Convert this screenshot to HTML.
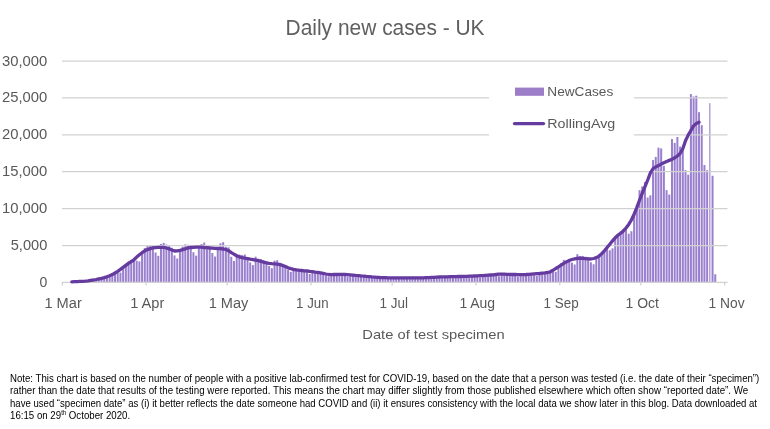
<!DOCTYPE html>
<html lang="en"><head><meta charset="utf-8"><title>Daily new cases - UK</title>
<style>html,body{margin:0;padding:0;background:#fff}body{width:770px;height:429px;overflow:hidden}svg{display:block}text{font-family:"Liberation Sans",sans-serif}</style></head><body>
<svg width="770" height="429" viewBox="0 0 770 429">
<rect width="770" height="429" fill="#fff"/>
<g fill="#9a7fce">
<rect x="70.76" y="281.73" width="2.0" height="0.27"/>
<rect x="73.47" y="281.66" width="2.0" height="0.34"/>
<rect x="76.17" y="281.54" width="2.0" height="0.46"/>
<rect x="78.87" y="281.58" width="2.0" height="0.42"/>
<rect x="81.58" y="281.53" width="2.0" height="0.47"/>
<rect x="84.28" y="281.00" width="2.0" height="1.00"/>
<rect x="86.99" y="280.67" width="2.0" height="1.33"/>
<rect x="89.69" y="280.25" width="2.0" height="1.75"/>
<rect x="92.39" y="279.80" width="2.0" height="2.20"/>
<rect x="95.10" y="279.25" width="2.0" height="2.75"/>
<rect x="97.80" y="279.38" width="2.0" height="2.62"/>
<rect x="100.50" y="279.27" width="2.0" height="2.73"/>
<rect x="103.21" y="277.38" width="2.0" height="4.62"/>
<rect x="105.91" y="276.25" width="2.0" height="5.75"/>
<rect x="108.61" y="275.13" width="2.0" height="6.87"/>
<rect x="111.32" y="273.95" width="2.0" height="8.05"/>
<rect x="114.02" y="272.37" width="2.0" height="9.63"/>
<rect x="116.73" y="272.86" width="2.0" height="9.14"/>
<rect x="119.43" y="272.54" width="2.0" height="9.46"/>
<rect x="122.13" y="266.73" width="2.0" height="15.27"/>
<rect x="124.84" y="263.72" width="2.0" height="18.28"/>
<rect x="127.54" y="261.52" width="2.0" height="20.48"/>
<rect x="130.24" y="260.01" width="2.0" height="21.99"/>
<rect x="132.95" y="258.21" width="2.0" height="23.79"/>
<rect x="135.65" y="260.67" width="2.0" height="21.33"/>
<rect x="138.36" y="261.40" width="2.0" height="20.60"/>
<rect x="141.06" y="251.50" width="2.0" height="30.50"/>
<rect x="143.76" y="247.99" width="2.0" height="34.01"/>
<rect x="146.47" y="245.50" width="2.0" height="36.50"/>
<rect x="149.17" y="245.87" width="2.0" height="36.13"/>
<rect x="151.87" y="245.46" width="2.0" height="36.54"/>
<rect x="154.58" y="252.46" width="2.0" height="29.54"/>
<rect x="157.28" y="255.81" width="2.0" height="26.19"/>
<rect x="159.99" y="244.02" width="2.0" height="37.98"/>
<rect x="162.69" y="242.92" width="2.0" height="39.08"/>
<rect x="165.39" y="244.54" width="2.0" height="37.46"/>
<rect x="168.10" y="246.06" width="2.0" height="35.94"/>
<rect x="170.80" y="247.76" width="2.0" height="34.24"/>
<rect x="173.50" y="255.42" width="2.0" height="26.58"/>
<rect x="176.21" y="258.48" width="2.0" height="23.52"/>
<rect x="178.91" y="249.03" width="2.0" height="32.97"/>
<rect x="181.61" y="246.67" width="2.0" height="35.33"/>
<rect x="184.32" y="244.39" width="2.0" height="37.61"/>
<rect x="187.02" y="244.76" width="2.0" height="37.24"/>
<rect x="189.73" y="245.02" width="2.0" height="36.98"/>
<rect x="192.43" y="252.19" width="2.0" height="29.81"/>
<rect x="195.13" y="255.60" width="2.0" height="26.40"/>
<rect x="197.84" y="245.69" width="2.0" height="36.31"/>
<rect x="200.54" y="244.08" width="2.0" height="37.92"/>
<rect x="203.24" y="242.55" width="2.0" height="39.45"/>
<rect x="205.95" y="244.97" width="2.0" height="37.03"/>
<rect x="208.65" y="245.55" width="2.0" height="36.45"/>
<rect x="211.36" y="252.97" width="2.0" height="29.03"/>
<rect x="214.06" y="256.54" width="2.0" height="25.46"/>
<rect x="216.76" y="247.18" width="2.0" height="34.82"/>
<rect x="219.47" y="243.29" width="2.0" height="38.71"/>
<rect x="222.17" y="242.18" width="2.0" height="39.82"/>
<rect x="224.87" y="246.84" width="2.0" height="35.16"/>
<rect x="227.58" y="247.34" width="2.0" height="34.66"/>
<rect x="230.28" y="256.78" width="2.0" height="25.22"/>
<rect x="232.98" y="260.94" width="2.0" height="21.06"/>
<rect x="235.69" y="254.59" width="2.0" height="27.41"/>
<rect x="238.39" y="254.57" width="2.0" height="27.43"/>
<rect x="241.10" y="255.09" width="2.0" height="26.91"/>
<rect x="243.80" y="254.50" width="2.0" height="27.50"/>
<rect x="246.50" y="257.03" width="2.0" height="24.97"/>
<rect x="249.21" y="262.44" width="2.0" height="19.56"/>
<rect x="251.91" y="265.11" width="2.0" height="16.89"/>
<rect x="254.61" y="256.72" width="2.0" height="25.28"/>
<rect x="257.32" y="258.69" width="2.0" height="23.31"/>
<rect x="260.02" y="259.24" width="2.0" height="22.76"/>
<rect x="262.73" y="260.51" width="2.0" height="21.49"/>
<rect x="265.43" y="261.48" width="2.0" height="20.52"/>
<rect x="268.13" y="266.01" width="2.0" height="15.99"/>
<rect x="270.84" y="268.15" width="2.0" height="13.85"/>
<rect x="273.54" y="260.63" width="2.0" height="21.37"/>
<rect x="276.24" y="260.19" width="2.0" height="21.81"/>
<rect x="278.95" y="262.77" width="2.0" height="19.23"/>
<rect x="281.65" y="264.02" width="2.0" height="17.98"/>
<rect x="284.36" y="265.53" width="2.0" height="16.47"/>
<rect x="287.06" y="269.81" width="2.0" height="12.19"/>
<rect x="289.76" y="271.88" width="2.0" height="10.12"/>
<rect x="292.47" y="268.73" width="2.0" height="13.27"/>
<rect x="295.17" y="268.66" width="2.0" height="13.34"/>
<rect x="297.87" y="268.96" width="2.0" height="13.04"/>
<rect x="300.58" y="269.54" width="2.0" height="12.46"/>
<rect x="303.28" y="269.95" width="2.0" height="12.05"/>
<rect x="305.98" y="272.63" width="2.0" height="9.37"/>
<rect x="308.69" y="274.02" width="2.0" height="7.98"/>
<rect x="311.39" y="271.28" width="2.0" height="10.72"/>
<rect x="314.10" y="271.13" width="2.0" height="10.87"/>
<rect x="316.80" y="271.43" width="2.0" height="10.57"/>
<rect x="319.50" y="272.07" width="2.0" height="9.93"/>
<rect x="322.21" y="272.76" width="2.0" height="9.24"/>
<rect x="324.91" y="275.20" width="2.0" height="6.80"/>
<rect x="327.61" y="276.40" width="2.0" height="5.60"/>
<rect x="330.32" y="274.28" width="2.0" height="7.72"/>
<rect x="333.02" y="273.83" width="2.0" height="8.17"/>
<rect x="335.73" y="273.67" width="2.0" height="8.33"/>
<rect x="338.43" y="273.77" width="2.0" height="8.23"/>
<rect x="341.13" y="273.86" width="2.0" height="8.14"/>
<rect x="343.84" y="275.63" width="2.0" height="6.37"/>
<rect x="346.54" y="276.54" width="2.0" height="5.46"/>
<rect x="349.24" y="274.60" width="2.0" height="7.40"/>
<rect x="351.95" y="274.46" width="2.0" height="7.54"/>
<rect x="354.65" y="274.65" width="2.0" height="7.35"/>
<rect x="357.36" y="275.10" width="2.0" height="6.90"/>
<rect x="360.06" y="275.43" width="2.0" height="6.57"/>
<rect x="362.76" y="277.01" width="2.0" height="4.99"/>
<rect x="365.47" y="277.82" width="2.0" height="4.18"/>
<rect x="368.17" y="276.39" width="2.0" height="5.61"/>
<rect x="370.87" y="276.36" width="2.0" height="5.64"/>
<rect x="373.58" y="276.55" width="2.0" height="5.45"/>
<rect x="376.28" y="276.88" width="2.0" height="5.12"/>
<rect x="378.98" y="277.12" width="2.0" height="4.88"/>
<rect x="381.69" y="278.28" width="2.0" height="3.72"/>
<rect x="384.39" y="278.85" width="2.0" height="3.15"/>
<rect x="387.10" y="277.60" width="2.0" height="4.40"/>
<rect x="389.80" y="277.39" width="2.0" height="4.61"/>
<rect x="392.50" y="277.34" width="2.0" height="4.66"/>
<rect x="395.21" y="277.43" width="2.0" height="4.57"/>
<rect x="397.91" y="277.48" width="2.0" height="4.52"/>
<rect x="400.61" y="278.44" width="2.0" height="3.56"/>
<rect x="403.32" y="278.90" width="2.0" height="3.10"/>
<rect x="406.02" y="277.62" width="2.0" height="4.38"/>
<rect x="408.73" y="277.39" width="2.0" height="4.61"/>
<rect x="411.43" y="277.34" width="2.0" height="4.66"/>
<rect x="414.13" y="277.43" width="2.0" height="4.57"/>
<rect x="416.84" y="277.48" width="2.0" height="4.52"/>
<rect x="419.54" y="278.44" width="2.0" height="3.56"/>
<rect x="422.24" y="278.88" width="2.0" height="3.12"/>
<rect x="424.95" y="277.49" width="2.0" height="4.51"/>
<rect x="427.65" y="277.13" width="2.0" height="4.87"/>
<rect x="430.36" y="276.93" width="2.0" height="5.07"/>
<rect x="433.06" y="276.87" width="2.0" height="5.13"/>
<rect x="435.76" y="276.78" width="2.0" height="5.22"/>
<rect x="438.47" y="277.78" width="2.0" height="4.22"/>
<rect x="441.17" y="278.25" width="2.0" height="3.75"/>
<rect x="443.87" y="276.64" width="2.0" height="5.36"/>
<rect x="446.58" y="276.29" width="2.0" height="5.71"/>
<rect x="449.28" y="276.17" width="2.0" height="5.83"/>
<rect x="451.98" y="276.21" width="2.0" height="5.79"/>
<rect x="454.69" y="276.20" width="2.0" height="5.80"/>
<rect x="457.39" y="277.37" width="2.0" height="4.63"/>
<rect x="460.10" y="277.90" width="2.0" height="4.10"/>
<rect x="462.80" y="276.17" width="2.0" height="5.83"/>
<rect x="465.50" y="275.78" width="2.0" height="6.22"/>
<rect x="468.21" y="275.62" width="2.0" height="6.38"/>
<rect x="470.91" y="275.64" width="2.0" height="6.36"/>
<rect x="473.61" y="275.57" width="2.0" height="6.43"/>
<rect x="476.32" y="276.80" width="2.0" height="5.20"/>
<rect x="479.02" y="277.34" width="2.0" height="4.66"/>
<rect x="481.73" y="275.31" width="2.0" height="6.69"/>
<rect x="484.43" y="274.79" width="2.0" height="7.21"/>
<rect x="487.13" y="274.52" width="2.0" height="7.48"/>
<rect x="489.84" y="274.45" width="2.0" height="7.55"/>
<rect x="492.54" y="274.31" width="2.0" height="7.69"/>
<rect x="495.24" y="275.64" width="2.0" height="6.36"/>
<rect x="497.95" y="276.20" width="2.0" height="5.80"/>
<rect x="500.65" y="273.88" width="2.0" height="8.12"/>
<rect x="503.35" y="273.51" width="2.0" height="8.49"/>
<rect x="506.06" y="273.50" width="2.0" height="8.50"/>
<rect x="508.76" y="273.75" width="2.0" height="8.25"/>
<rect x="511.47" y="273.92" width="2.0" height="8.08"/>
<rect x="514.17" y="275.64" width="2.0" height="6.36"/>
<rect x="516.87" y="276.46" width="2.0" height="5.54"/>
<rect x="519.58" y="274.29" width="2.0" height="7.71"/>
<rect x="522.28" y="273.85" width="2.0" height="8.15"/>
<rect x="524.98" y="273.66" width="2.0" height="8.34"/>
<rect x="527.69" y="273.67" width="2.0" height="8.33"/>
<rect x="530.39" y="273.55" width="2.0" height="8.45"/>
<rect x="533.10" y="275.11" width="2.0" height="6.89"/>
<rect x="535.80" y="275.78" width="2.0" height="6.22"/>
<rect x="538.50" y="273.10" width="2.0" height="8.90"/>
<rect x="541.21" y="272.39" width="2.0" height="9.61"/>
<rect x="543.91" y="271.98" width="2.0" height="10.02"/>
<rect x="546.61" y="271.73" width="2.0" height="10.27"/>
<rect x="549.32" y="271.10" width="2.0" height="10.90"/>
<rect x="552.02" y="272.01" width="2.0" height="9.99"/>
<rect x="554.73" y="271.83" width="2.0" height="10.17"/>
<rect x="557.43" y="266.18" width="2.0" height="15.82"/>
<rect x="560.13" y="263.48" width="2.0" height="18.52"/>
<rect x="562.84" y="259.89" width="2.0" height="22.11"/>
<rect x="565.54" y="260.25" width="2.0" height="21.75"/>
<rect x="568.24" y="258.93" width="2.0" height="23.07"/>
<rect x="570.95" y="262.67" width="2.0" height="19.33"/>
<rect x="573.65" y="264.52" width="2.0" height="17.48"/>
<rect x="576.35" y="254.21" width="2.0" height="27.79"/>
<rect x="579.06" y="256.02" width="2.0" height="25.98"/>
<rect x="581.76" y="255.91" width="2.0" height="26.09"/>
<rect x="584.47" y="256.79" width="2.0" height="25.21"/>
<rect x="587.17" y="257.26" width="2.0" height="24.74"/>
<rect x="589.87" y="262.26" width="2.0" height="19.74"/>
<rect x="592.58" y="264.26" width="2.0" height="17.74"/>
<rect x="595.28" y="257.21" width="2.0" height="24.79"/>
<rect x="597.98" y="255.31" width="2.0" height="26.69"/>
<rect x="600.69" y="252.81" width="2.0" height="29.19"/>
<rect x="603.39" y="249.90" width="2.0" height="32.10"/>
<rect x="606.10" y="246.77" width="2.0" height="35.23"/>
<rect x="608.80" y="250.31" width="2.0" height="31.69"/>
<rect x="611.50" y="248.36" width="2.0" height="33.64"/>
<rect x="614.21" y="236.92" width="2.0" height="45.08"/>
<rect x="616.91" y="233.87" width="2.0" height="48.13"/>
<rect x="619.61" y="231.69" width="2.0" height="50.31"/>
<rect x="622.32" y="229.33" width="2.0" height="52.67"/>
<rect x="625.02" y="226.89" width="2.0" height="55.11"/>
<rect x="627.73" y="233.72" width="2.0" height="48.28"/>
<rect x="630.43" y="231.25" width="2.0" height="50.75"/>
<rect x="633.13" y="212.88" width="2.0" height="69.12"/>
<rect x="635.84" y="205.37" width="2.0" height="76.63"/>
<rect x="638.54" y="190.15" width="2.0" height="91.85"/>
<rect x="641.24" y="186.46" width="2.0" height="95.54"/>
<rect x="643.95" y="182.03" width="2.0" height="99.97"/>
<rect x="646.65" y="197.53" width="2.0" height="84.47"/>
<rect x="649.35" y="195.32" width="2.0" height="86.68"/>
<rect x="652.06" y="160.11" width="2.0" height="121.89"/>
<rect x="654.76" y="156.94" width="2.0" height="125.06"/>
<rect x="657.47" y="147.64" width="2.0" height="134.36"/>
<rect x="660.17" y="148.45" width="2.0" height="133.55"/>
<rect x="662.87" y="165.80" width="2.0" height="116.20"/>
<rect x="665.58" y="190.15" width="2.0" height="91.85"/>
<rect x="668.28" y="194.58" width="2.0" height="87.42"/>
<rect x="670.98" y="139.01" width="2.0" height="142.99"/>
<rect x="673.69" y="142.92" width="2.0" height="139.08"/>
<rect x="676.39" y="137.01" width="2.0" height="144.99"/>
<rect x="679.10" y="146.61" width="2.0" height="135.39"/>
<rect x="681.80" y="149.56" width="2.0" height="132.44"/>
<rect x="684.50" y="170.22" width="2.0" height="111.78"/>
<rect x="687.21" y="174.65" width="2.0" height="107.35"/>
<rect x="689.91" y="94.10" width="2.0" height="187.90"/>
<rect x="692.61" y="96.50" width="2.0" height="185.50"/>
<rect x="695.32" y="95.69" width="2.0" height="186.31"/>
<rect x="698.02" y="112.18" width="2.0" height="169.82"/>
<rect x="700.73" y="125.21" width="2.0" height="156.79"/>
<rect x="703.43" y="165.06" width="2.0" height="116.94"/>
<rect x="706.13" y="170.22" width="2.0" height="111.78"/>
<rect x="709.29" y="103.14" width="1.1" height="178.86"/>
<rect x="711.54" y="175.76" width="2.0" height="106.24"/>
<rect x="714.24" y="274.28" width="2.0" height="7.72"/>
</g>
<g stroke="#d1d1d1" stroke-width="1.25" fill="none">
<line x1="62" y1="61.0" x2="727.5" y2="61.0"/>
<path d="M62 97.9H489M634 97.9H727.5"/>
<path d="M62 134.8H489M634 134.8H727.5"/>
<line x1="62" y1="171.7" x2="727.5" y2="171.7"/>
<line x1="62" y1="208.6" x2="727.5" y2="208.6"/>
<line x1="62" y1="245.5" x2="727.5" y2="245.5"/>
<line x1="62" y1="282.4" x2="727.5" y2="282.4"/>
<line x1="62.3" y1="282.4" x2="62.3" y2="285.6"/>
<line x1="146.1" y1="282.4" x2="146.1" y2="285.6"/>
<line x1="227.2" y1="282.4" x2="227.2" y2="285.6"/>
<line x1="311.0" y1="282.4" x2="311.0" y2="285.6"/>
<line x1="392.2" y1="282.4" x2="392.2" y2="285.6"/>
<line x1="476.0" y1="282.4" x2="476.0" y2="285.6"/>
<line x1="559.8" y1="282.4" x2="559.8" y2="285.6"/>
<line x1="640.9" y1="282.4" x2="640.9" y2="285.6"/>
<line x1="724.7" y1="282.4" x2="724.7" y2="285.6"/>
</g>
<path d="M71.8 281.8 L74.5 281.7 L77.2 281.6 L79.9 281.4 L82.6 281.3 L85.3 281.1 L88.0 280.8 L90.7 280.4 L93.4 280.0 L96.1 279.5 L98.8 278.9 L101.5 278.3 L104.2 277.6 L106.9 276.8 L109.6 275.8 L112.3 274.6 L115.0 273.0 L117.7 271.3 L120.4 269.4 L123.1 267.3 L125.8 265.3 L128.5 263.4 L131.2 261.7 L133.9 259.8 L136.7 257.1 L139.4 254.8 L142.1 252.7 L144.8 250.8 L147.5 249.6 L150.2 248.6 L152.9 247.9 L155.6 247.6 L158.3 247.4 L161.0 247.3 L163.7 247.4 L166.4 248.0 L169.1 248.8 L171.8 250.0 L174.5 251.0 L177.2 250.9 L179.9 250.3 L182.6 249.6 L185.3 248.8 L188.0 247.9 L190.7 247.5 L193.4 247.3 L196.1 247.1 L198.8 247.1 L201.5 247.2 L204.2 247.5 L206.9 247.7 L209.7 248.0 L212.4 248.2 L215.1 248.4 L217.8 248.5 L220.5 248.7 L223.2 249.0 L225.9 249.5 L228.6 250.7 L231.3 252.6 L234.0 254.2 L236.7 255.7 L239.4 256.9 L242.1 257.6 L244.8 258.2 L247.5 258.7 L250.2 259.2 L252.9 259.6 L255.6 260.1 L258.3 260.6 L261.0 261.3 L263.7 262.1 L266.4 262.8 L269.1 263.3 L271.8 263.7 L274.5 263.9 L277.2 264.2 L279.9 264.6 L282.7 265.4 L285.4 266.6 L288.1 267.8 L290.8 268.6 L293.5 269.3 L296.2 269.8 L298.9 270.2 L301.6 270.5 L304.3 270.8 L307.0 271.0 L309.7 271.4 L312.4 271.7 L315.1 272.1 L317.8 272.4 L320.5 272.8 L323.2 273.4 L325.9 274.0 L328.6 274.5 L331.3 274.6 L334.0 274.5 L336.7 274.5 L339.4 274.4 L342.1 274.4 L344.8 274.5 L347.5 274.7 L350.2 274.9 L352.9 275.1 L355.7 275.4 L358.4 275.6 L361.1 275.9 L363.8 276.1 L366.5 276.4 L369.2 276.6 L371.9 276.9 L374.6 277.1 L377.3 277.3 L380.0 277.5 L382.7 277.6 L385.4 277.7 L388.1 277.8 L390.8 277.8 L393.5 277.8 L396.2 277.8 L398.9 277.8 L401.6 277.8 L404.3 277.8 L407.0 277.8 L409.7 277.8 L412.4 277.8 L415.1 277.8 L417.8 277.8 L420.5 277.8 L423.2 277.8 L425.9 277.7 L428.7 277.6 L431.4 277.4 L434.1 277.3 L436.8 277.1 L439.5 277.0 L442.2 276.9 L444.9 276.9 L447.6 276.8 L450.3 276.7 L453.0 276.7 L455.7 276.6 L458.4 276.5 L461.1 276.5 L463.8 276.4 L466.5 276.3 L469.2 276.2 L471.9 276.1 L474.6 276.0 L477.3 275.9 L480.0 275.7 L482.7 275.6 L485.4 275.4 L488.1 275.2 L490.8 275.0 L493.5 274.8 L496.2 274.5 L498.9 274.2 L501.7 274.2 L504.4 274.2 L507.1 274.3 L509.8 274.4 L512.5 274.5 L515.2 274.5 L517.9 274.6 L520.6 274.6 L523.3 274.6 L526.0 274.5 L528.7 274.3 L531.4 274.1 L534.1 273.9 L536.8 273.7 L539.5 273.5 L542.2 273.2 L544.9 272.9 L547.6 272.5 L550.3 271.8 L553.0 270.3 L555.7 268.5 L558.4 266.8 L561.1 265.0 L563.8 263.4 L566.5 261.9 L569.2 260.5 L571.9 259.5 L574.7 258.9 L577.4 258.4 L580.1 258.2 L582.8 258.3 L585.5 258.6 L588.2 258.9 L590.9 259.0 L593.6 258.5 L596.3 257.7 L599.0 256.1 L601.7 253.7 L604.4 250.8 L607.1 247.5 L609.8 244.2 L612.5 240.9 L615.2 237.8 L617.9 235.3 L620.6 233.2 L623.3 230.9 L626.0 228.0 L628.7 224.4 L631.4 220.0 L634.1 214.2 L636.8 207.6 L639.5 200.3 L642.2 193.4 L644.9 186.9 L647.7 180.0 L650.4 172.8 L653.1 168.6 L655.8 166.9 L658.5 165.6 L661.2 164.1 L663.9 162.8 L666.6 161.5 L669.3 160.4 L672.0 159.3 L674.7 157.8 L677.4 156.0 L680.1 153.5 L682.8 148.7 L685.5 140.7 L688.2 135.1 L690.9 130.5 L693.6 125.9 L696.3 123.4 L699.0 122.2" fill="none" stroke="#653b9f" stroke-width="3.3" stroke-linecap="round" stroke-linejoin="round"/>
<rect x="515" y="87.6" width="29" height="8.2" fill="#9b7dc8"/>
<line x1="514.5" y1="123.6" x2="543.5" y2="123.6" stroke="#653b9f" stroke-width="3.3" stroke-linecap="round"/>
<text x="547.3" y="96.0" font-size="13.6" text-anchor="start" fill="#595959" textLength="66" lengthAdjust="spacingAndGlyphs">NewCases</text>
<text x="547.3" y="127.7" font-size="13.6" text-anchor="start" fill="#595959" textLength="68" lengthAdjust="spacingAndGlyphs">RollingAvg</text>
<text x="285.5" y="34.5" font-size="21.5" text-anchor="start" fill="#5f5f5f" textLength="199.1" lengthAdjust="spacingAndGlyphs">Daily new cases - UK</text>
<text x="362.3" y="339.0" font-size="13.6" text-anchor="start" fill="#595959" textLength="142.4" lengthAdjust="spacingAndGlyphs">Date of test specimen</text>
<text x="47.3" y="65.5" font-size="14.2" text-anchor="end" fill="#595959" textLength="45.3" lengthAdjust="spacingAndGlyphs">30,000</text>
<text x="47.3" y="102.4" font-size="14.2" text-anchor="end" fill="#595959" textLength="45.3" lengthAdjust="spacingAndGlyphs">25,000</text>
<text x="47.3" y="139.3" font-size="14.2" text-anchor="end" fill="#595959" textLength="45.3" lengthAdjust="spacingAndGlyphs">20,000</text>
<text x="47.3" y="176.2" font-size="14.2" text-anchor="end" fill="#595959" textLength="45.3" lengthAdjust="spacingAndGlyphs">15,000</text>
<text x="47.3" y="213.1" font-size="14.2" text-anchor="end" fill="#595959" textLength="45.3" lengthAdjust="spacingAndGlyphs">10,000</text>
<text x="47.3" y="250.0" font-size="14.2" text-anchor="end" fill="#595959" textLength="36.6" lengthAdjust="spacingAndGlyphs">5,000</text>
<text x="47.3" y="286.9" font-size="14.2" text-anchor="end" fill="#595959" textLength="7.8" lengthAdjust="spacingAndGlyphs">0</text>
<text x="44.4" y="307.9" font-size="14" text-anchor="start" fill="#595959" textLength="37.4" lengthAdjust="spacingAndGlyphs">1 Mar</text>
<text x="130.2" y="307.9" font-size="14" text-anchor="start" fill="#595959" textLength="34.1" lengthAdjust="spacingAndGlyphs">1 Apr</text>
<text x="208.7" y="307.9" font-size="14" text-anchor="start" fill="#595959" textLength="39.7" lengthAdjust="spacingAndGlyphs">1 May</text>
<text x="296.1" y="307.9" font-size="14" text-anchor="start" fill="#595959" textLength="32.4" lengthAdjust="spacingAndGlyphs">1 Jun</text>
<text x="379.6" y="307.9" font-size="14" text-anchor="start" fill="#595959" textLength="28.4" lengthAdjust="spacingAndGlyphs">1 Jul</text>
<text x="459.40000000000003" y="307.9" font-size="14" text-anchor="start" fill="#595959" textLength="35.7" lengthAdjust="spacingAndGlyphs">1 Aug</text>
<text x="543.6" y="307.9" font-size="14" text-anchor="start" fill="#595959" textLength="35.1" lengthAdjust="spacingAndGlyphs">1 Sep</text>
<text x="625.5" y="307.9" font-size="14" text-anchor="start" fill="#595959" textLength="33.4" lengthAdjust="spacingAndGlyphs">1 Oct</text>
<text x="708.6" y="307.9" font-size="14" text-anchor="start" fill="#595959" textLength="36.1" lengthAdjust="spacingAndGlyphs">1 Nov</text>
<text x="10" y="381.9" font-size="10.6" text-anchor="start" fill="#000" textLength="749.3" lengthAdjust="spacingAndGlyphs">Note: This chart is based on the number of people with a positive lab-confirmed test for COVID-19, based on the date that a person was tested (i.e. the date of their “specimen”)</text>
<text x="10" y="394.4" font-size="10.6" text-anchor="start" fill="#000" textLength="738.3" lengthAdjust="spacingAndGlyphs">rather than the date that results of the testing were reported. This means the chart may differ slightly from those published elsewhere which often show “reported date”. We</text>
<text x="10" y="406.9" font-size="10.6" text-anchor="start" fill="#000" textLength="747" lengthAdjust="spacingAndGlyphs">have used “specimen date” as (i) it better reflects the date someone had COVID and (ii) it ensures consistency with the local data we show later in this blog. Data downloaded at</text>
<text x="10" y="418.9" font-size="10.6" fill="#000" textLength="120.2" lengthAdjust="spacingAndGlyphs">16:15 on 29<tspan font-size="6.6" dy="-3.6">th</tspan><tspan dy="3.6"> October 2020.</tspan></text>
</svg></body></html>
